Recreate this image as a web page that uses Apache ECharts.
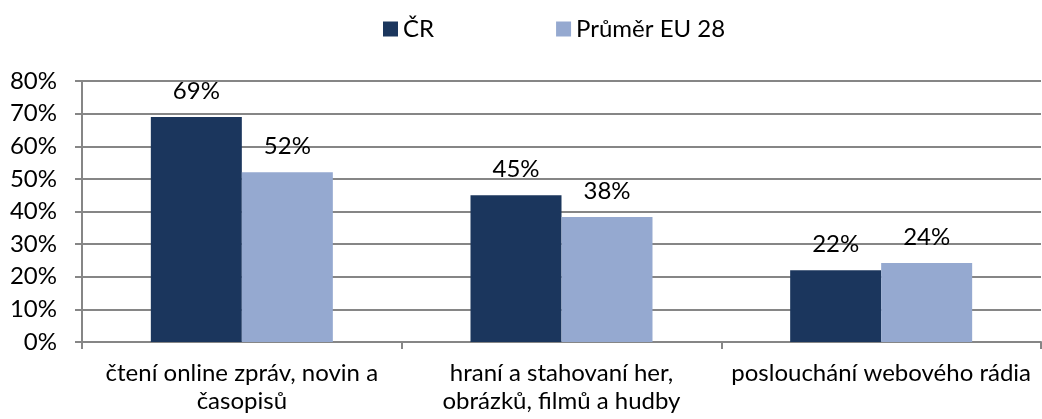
<!DOCTYPE html>
<html>
<head>
<meta charset="utf-8">
<script src="https://cdn.jsdelivr.net/npm/echarts@6/dist/echarts.min.js"></script>
<style>
html, body { margin: 0; padding: 0; background: #fff; }
#chart { width: 1042px; height: 419px; }
</style>
</head>
<body>
<div id="chart"></div>
<script>
const categories = [
  "čtení online zpráv, novin a\nčasopisů",
  "hraní a stahovaní her,\nobrázků, filmů a hudby",
  "poslouchání webového rádia"
];
const seriesNames = ["ČR", "Průměr EU 28"];
const cr = [69, 45, 22];
const eu = [52, 38.3, 24.2];
const yTicks = [0, 10, 20, 30, 40, 50, 60, 70, 80];

const font = "Lato, Carlito, Calibri, sans-serif";
const fs = 24;
const chart = echarts.init(document.getElementById("chart"));

function barLabel() {
  return { show: true, position: "top", distance: 14, color: "#000", fontSize: fs,
           fontFamily: font, formatter: p => Math.round(p.value) + "%" };
}

chart.setOption({
  animation: false,
  textStyle: { fontFamily: font },
  legend: {
    top: 12,
    left: 378,
    itemWidth: 15,
    itemHeight: 15,
    itemGap: 122,
    icon: "rect",
    textStyle: { fontSize: fs, color: "#000", fontFamily: font },
    data: seriesNames
  },
  grid: { left: 82, right: 1, top: 81, bottom: 77 },
  xAxis: {
    type: "category",
    data: categories,
    axisLine: { lineStyle: { color: "#868686", width: 2 } },
    axisTick: { show: true, length: 7, lineStyle: { color: "#868686", width: 2 } },
    axisLabel: { color: "#000", fontSize: fs, lineHeight: 28, margin: 17, interval: 0 }
  },
  yAxis: {
    type: "value",
    min: yTicks[0],
    max: yTicks[yTicks.length - 1],
    interval: 10,
    axisLine: { show: true, lineStyle: { color: "#868686", width: 2 } },
    axisTick: { show: true, length: 7, lineStyle: { color: "#868686", width: 2 } },
    splitLine: { lineStyle: { color: "#868686", width: 2 } },
    axisLabel: { color: "#000", fontSize: fs, margin: 25, formatter: "{value}%" }
  },
  series: [
    {
      name: seriesNames[0],
      type: "bar",
      data: cr,
      barWidth: 91,
      barGap: "0%",
      itemStyle: { color: "#1B365D" },
      label: barLabel()
    },
    {
      name: seriesNames[1],
      type: "bar",
      data: eu,
      barWidth: 91,
      barGap: "0%",
      itemStyle: { color: "#95A9D0" },
      label: barLabel()
    }
  ]
});
</script>
</body>
</html>
